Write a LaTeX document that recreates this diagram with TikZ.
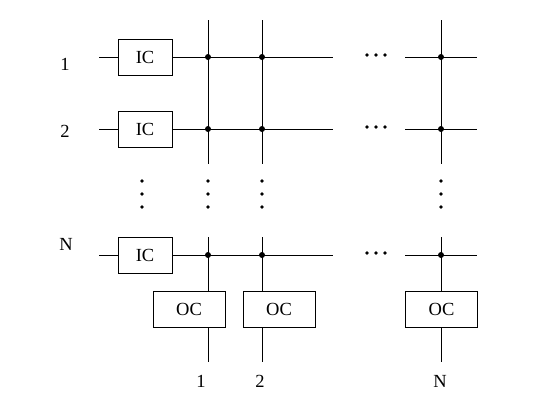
\documentclass[tikz,border=0pt]{standalone}
\usepackage{fontspec}
\setmainfont{Liberation Serif}
\usetikzlibrary{positioning, calc}

\tikzset{
  blk/.style={draw, minimum height=36pt, inner sep=0pt},
  icbox/.style={blk, minimum width=54pt},
  ocbox/.style={blk, minimum width=72pt},
  jdot/.style={circle, fill, inner sep=0pt, minimum size=6pt},
  lbl/.style={inner sep=0pt},
}

\begin{document}
\begin{tikzpicture}[x=1pt, y=-1pt, line width=1pt, font=\fontsize{18.5}{20}\selectfont]
  \useasboundingbox (0,0) rectangle (547,407);

  % input side
  \coordinate (in1) at (99,57);
  \coordinate (in2) at (99,129);
  \coordinate (inN) at (99,255);
  \node[icbox] (ic1) at (145,57) {IC};
  \node[icbox] (ic2) at (145,129) {IC};
  \node[icbox] (icN) at (145,255) {IC};
  \node[lbl] (l1) at (65,64) {1};
  \node[lbl] (l2) at (65,131) {2};
  \node[lbl] (lN) at (66,244) {N};

  % crossing points
  \node[jdot] (j11) at (208,57) {};
  \node[jdot] (j12) at (262,57) {};
  \node[jdot] (j1N) at (441,57) {};
  \node[jdot] (j21) at (208,129) {};
  \node[jdot] (j22) at (262,129) {};
  \node[jdot] (j2N) at (441,129) {};
  \node[jdot] (jN1) at (208,255) {};
  \node[jdot] (jN2) at (262,255) {};
  \node[jdot] (jNN) at (441,255) {};

  % row lines
  \foreach \r in {1,2,N} {
    \coordinate (e\r) at (333,0 |- j\r1);
    \coordinate (s\r) at (405,0 |- j\r1);
    \coordinate (f\r) at (477,0 |- j\r1);
    \draw (in\r) -- (ic\r.west);
    \draw (ic\r.east) -- (e\r);
    \draw (s\r) -- (f\r);
    \foreach \dx in {-9,0,9}
      \fill ($(e\r)!0.5!(s\r) + (\dx+7,-2)$) circle (1.8pt);
  }

  % output side
  \node[ocbox] (oc1) at (189,309) {OC};
  \node[ocbox] (oc2) at (279,309) {OC};
  \node[ocbox] (ocN) at (441.5,309) {OC};
  \node[lbl] (m1) at (201,381) {1};
  \node[lbl] (m2) at (260,381) {2};
  \node[lbl] (mN) at (440,381) {N};

  % column lines
  \foreach \c in {1,2,N} {
    \coordinate (t\c) at (j1\c |- 0,20);
    \coordinate (b\c) at (j1\c |- 0,164);
    \coordinate (u\c) at (j1\c |- 0,237);
    \coordinate (o\c) at (j1\c |- 0,362);
    \draw (t\c) -- (b\c);
    \draw (u\c) -- (u\c |- oc\c.north);
    \draw (o\c |- oc\c.south) -- (o\c);
  }

  % vertical dots
  \foreach \x in {142,208,262,441}
    \foreach \y in {181,194,207}
      \fill (\x,\y) circle (1.8pt);
\end{tikzpicture}
\end{document}
